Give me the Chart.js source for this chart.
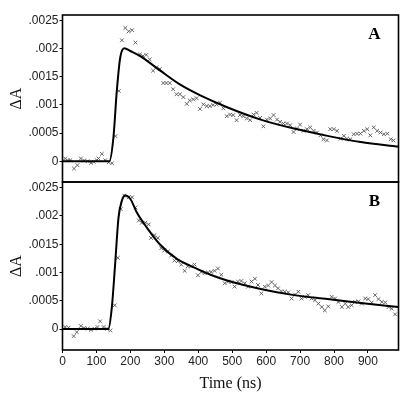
<!DOCTYPE html>
<html><head><meta charset="utf-8">
<script src="https://cdn.jsdelivr.net/npm/chart.js@4"></script>
<style>
html,body{margin:0;padding:0;background:#fff;width:417px;height:399px;overflow:hidden}
canvas{position:absolute;left:0;top:0}
</style></head><body>
<canvas id="ca" width="417" height="399"></canvas>
<canvas id="cb" width="417" height="399"></canvas>
<script>
// ---- data ----
const xTickValues = [0,100,200,300,400,500,600,700,800,900];
const yTickValues = [0,0.0005,0.001,0.0015,0.002,0.0025];
const yTickLabels = ['0','.0005','.001','.0015','.002','.0025'];
const panelLabels = ['A','B'];

const tA = [8,15,23,34,44,54,64,74,84,92,101,106,116,126,136,146,156,166,175,185,195,205,215,228,237,247,257,267,277,287,297,306,316,326,336,346,356,366,375,385,395,405,415,425,434,444,454,464,474,484,494,503,513,523,533,543,553,563,572,582,592,602,612,622,632,641,651,661,671,681,691,700,710,720,730,740,750,760,769,779,789,799,809,819,829,838,848,858,868,878,888,898,907,917,927,937,947,957,967,975];
const yA = [0.000048,0.000018,0.000018,-0.000131,-0.000071,0.000048,0.000012,0,-0.00003,-0.000012,0.000018,0.000048,0.000131,0.000018,-0.000018,-0.000036,0.000446,0.00125,0.00215,0.00237,0.00231,0.00233,0.00211,0.0019,0.00187,0.00189,0.00181,0.00161,0.00167,0.00164,0.00139,0.00139,0.00139,0.00128,0.00119,0.00119,0.00114,0.00102,0.00108,0.0011,0.00112,0.00093,0.00101,0.00098,0.00098,0.001,0.00101,0.00104,0.00094,0.0008,0.00083,0.00082,0.00073,0.00082,0.0008,0.00076,0.00073,0.00083,0.00086,0.00077,0.00062,0.00074,0.00076,0.00082,0.00074,0.0007,0.00067,0.00067,0.00064,0.00052,0.00058,0.00065,0.00054,0.00057,0.0006,0.00054,0.00051,0.00046,0.00039,0.00037,0.00057,0.00057,0.00054,0.0004,0.00045,0.0004,0.00039,0.00048,0.00049,0.00049,0.00054,0.00057,0.00046,0.0006,0.00054,0.00051,0.00048,0.00049,0.00039,0.00037];
const fitTA = [0,138,150,160,170,182,200,229,288,347,406,485,584,682,781,879,990];
const fitYA = [0,0,0.00042,0.00125,0.00184,0.00201,0.00196,0.00187,0.00161,0.00136,0.00117,0.00096,0.00074,0.00058,0.00045,0.00034,0.00026];

const tB = [8,18,33,42,54,64,74,84,94,103,111,121,131,141,154,163,172,182,195,205,215,225,234,244,254,261,271,281,291,300,310,320,330,340,350,360,369,379,389,399,409,419,429,438,448,458,468,478,488,498,507,517,527,537,547,557,567,576,586,596,606,616,626,635,645,655,665,675,685,695,704,714,724,734,744,754,764,773,783,793,803,813,823,833,842,852,862,872,882,892,901,911,921,931,941,951,961,970,980];
const yB = [0.000036,0.000024,-0.000125,-0.000054,0.000054,0.000018,0.000006,-0.000012,0.000006,0.000036,0.000137,0.000036,0.000006,-0.000024,0.00042,0.00126,0.00212,0.00236,0.00233,0.00233,0.00215,0.00192,0.00188,0.00188,0.00185,0.00161,0.00166,0.00161,0.00143,0.00139,0.00137,0.0013,0.00121,0.0012,0.00114,0.00103,0.00111,0.00111,0.00114,0.00095,0.00101,0.00099,0.001,0.00101,0.00103,0.00107,0.00096,0.00081,0.00084,0.00083,0.00075,0.00084,0.00085,0.00081,0.00075,0.00084,0.00089,0.00078,0.00063,0.00075,0.00077,0.00083,0.00077,0.00072,0.00067,0.00066,0.00065,0.00054,0.00061,0.00066,0.00054,0.00057,0.0006,0.00054,0.00051,0.00045,0.00039,0.00033,0.0004,0.00057,0.00054,0.00048,0.00039,0.00045,0.00039,0.00042,0.00048,0.00049,0.00045,0.00054,0.00053,0.00047,0.0006,0.00053,0.00048,0.00047,0.00039,0.00036,0.00026];
const fitTB = [0,135,145,155,165,175,185,200,219,249,288,337,387,436,485,584,682,781,879,990];
const fitYB = [0,0,0.00036,0.00114,0.00197,0.00227,0.00236,0.0023,0.00206,0.00179,0.00149,0.00124,0.00109,0.00096,0.00086,0.00071,0.0006,0.00053,0.00046,0.00039];

// ---- rendering ----
const pts = (xs, ys) => xs.map((x, i) => ({x, y: ys[i]}));
const framePlugin = {
  id: 'frame',
  afterDraw(chart, args, opts) {
    const {ctx, chartArea: {left, top, right, bottom}} = chart;
    ctx.save();
    ctx.strokeStyle = '#000';
    ctx.lineWidth = 1.6;
    ctx.strokeRect(left, top, right - left, bottom - top);
    ctx.fillStyle = '#000';
    ctx.font = 'bold 17px "Liberation Serif"';
    ctx.textAlign = 'center';
    ctx.textBaseline = 'middle';
    ctx.fillText(opts.label, right - 24, top + 20);
    ctx.restore();
  }
};

function makeChart(id, xs, ys, fx, fy, label, showX, padTop, padBottom) {
  return new Chart(document.getElementById(id), {
    data: {
      datasets: [
        {type: 'line', data: pts(fx, fy), borderColor: '#000', borderWidth: 2, pointRadius: 0,
         cubicInterpolationMode: 'monotone', fill: false, order: 1},
        {type: 'scatter', data: pts(xs, ys), pointStyle: 'crossRot', pointRadius: 2.6,
         borderColor: '#555', backgroundColor: '#555', pointBorderWidth: 0.9, order: 2}
      ]
    },
    options: {
      responsive: false, animation: false, devicePixelRatio: 1,
      layout: {padding: {left: 0, right: 18.5, top: padTop, bottom: padBottom}},
      plugins: {legend: {display: false}, tooltip: {enabled: false}, frame: {label}},
      scales: {
        x: {
          type: 'linear', min: 0, max: 990, display: showX,
          afterBuildTicks: s => { s.ticks = xTickValues.map(v => ({value: v})); },
          afterFit: s => { s.height = showX ? 49 : 0; },
          grid: {display: true, drawOnChartArea: false, drawTicks: true, tickLength: 3, color: '#000'},
          border: {display: false},
          ticks: {color: '#222', padding: 1, maxRotation: 0, font: {family: 'Liberation Sans', size: 12},
                  callback: v => String(v)},
          title: {display: true, text: 'Time (ns)', color: '#111',
                  font: {family: 'Liberation Serif', size: 16}, padding: {top: 0, bottom: 6}}
        },
        y: {
          type: 'linear', min: -0.00037, max: 0.0026,
          afterBuildTicks: s => { s.ticks = yTickValues.map(v => ({value: v})); },
          afterFit: s => { s.width = 62.5; },
          grid: {display: true, drawOnChartArea: false, drawTicks: true, tickLength: 3, color: '#000'},
          border: {display: false},
          ticks: {color: '#222', padding: 1, font: {family: 'Liberation Sans', size: 12},
                  callback: v => yTickLabels[yTickValues.indexOf(v)] ?? ''},
          title: {display: true, text: 'ΔA', color: '#111',
                  font: {family: 'Liberation Serif', size: 16}, padding: {top: 7, bottom: 0}}
        }
      }
    },
    plugins: [framePlugin]
  });
}

makeChart('ca', tA, yA, fitTA, fitYA, panelLabels[0], false, 15, 217);
makeChart('cb', tB, yB, fitTB, fitYB, panelLabels[1], true, 182, 0);
</script>
</body></html>
